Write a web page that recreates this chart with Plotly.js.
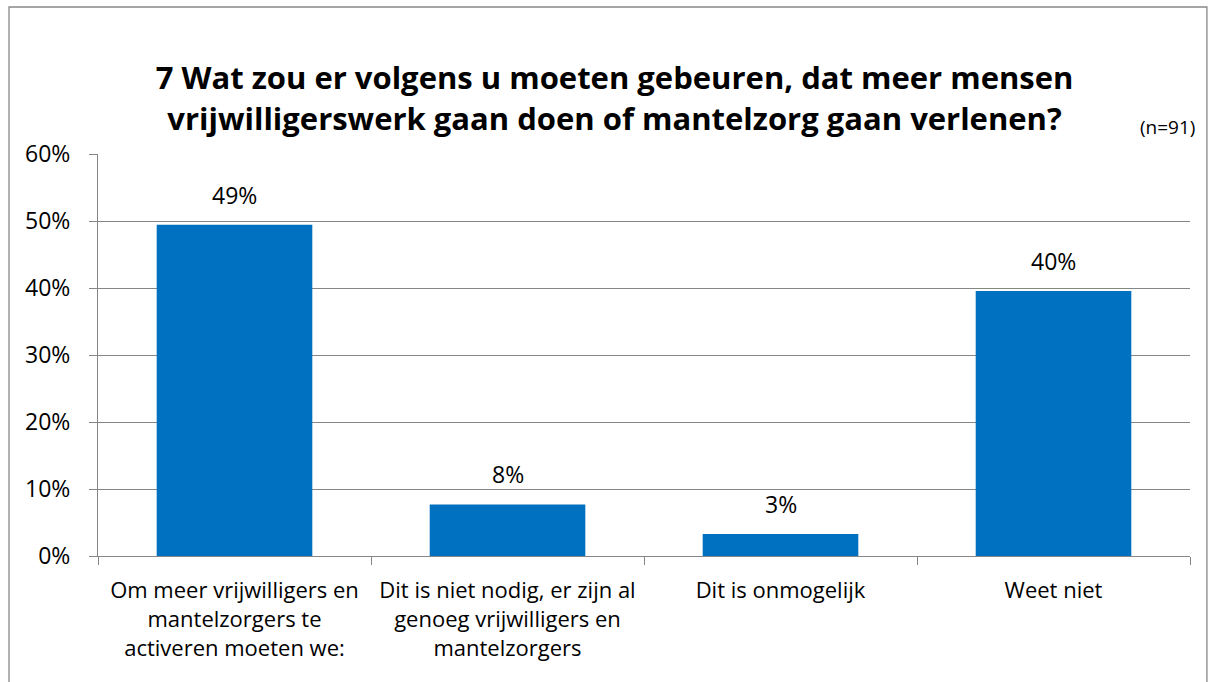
<!DOCTYPE html>
<html>
<head>
<meta charset="utf-8">
<script src="https://cdn.plot.ly/plotly-3.0.1.min.js"></script>
<style>html,body{margin:0;padding:0;background:#fff;}#chart{width:1215px;height:682px;}</style>
</head>
<body>
<div id="chart"></div>
<script>
const categories = [
  "Om meer vrijwilligers en<br>mantelzorgers te<br>activeren moeten we:",
  "Dit is niet nodig, er zijn al<br>genoeg vrijwilligers en<br>mantelzorgers",
  "Dit is onmogelijk",
  "Weet niet"
];
const values = [0.4945, 0.0769, 0.0330, 0.3956];
const valueLabels = ["49%", "8%", "3%", "40%"];
const yTickVals = [0, 0.1, 0.2, 0.3, 0.4, 0.5, 0.6];
const yTickText = ["0%", "10%", "20%", "30%", "40%", "50%", "60%"];

const FONT = "'Open Sans', 'Noto Sans', sans-serif";
const barColor = "#0070C0";
const gridColor = "#868686";

const trace = {
  type: "bar",
  x: categories,
  y: values,
  marker: {color: barColor},
  hoverinfo: "skip"
};

const annotations = categories.map((c, i) => ({
  x: c, y: values[i], xref: "x", yref: "y",
  text: valueLabels[i], showarrow: false,
  yanchor: "bottom", yshift: 12,
  font: {family: FONT, size: 23, color: "#000"}
}));
annotations.push({
  xref: "paper", yref: "paper", x: 1.006, y: 1.0, xanchor: "right", yanchor: "bottom",
  yshift: 12,
  text: "(n=91)", showarrow: false,
  font: {family: FONT, size: 19, color: "#000"}
});

const layout = {
  width: 1215, height: 682,
  paper_bgcolor: "#fff", plot_bgcolor: "#fff",
  margin: {l: 98, r: 25, t: 154, b: 126, pad: 0},
  title: {
    text: "<b>7 Wat zou er volgens u moeten gebeuren, dat meer mensen<br>vrijwilligerswerk gaan doen of mantelzorg gaan verlenen?</b>",
    font: {family: FONT, size: 31, color: "#000"},
    x: 0.5058, xref: "container", xanchor: "center",
    y: 0.869, yref: "container", yanchor: "middle"
  },
  bargap: 0.43,
  showlegend: false,
  xaxis: {
    type: "category",
    showline: true, linecolor: gridColor, linewidth: 1,
    ticks: "outside", tickson: "boundaries", ticklen: 8, tickcolor: gridColor,
    tickangle: 0, automargin: false,
    ticklabelstandoff: 15,
    tickfont: {family: FONT, size: 22, color: "#000"},
    showgrid: false, fixedrange: true
  },
  yaxis: {
    range: [0, 0.6],
    tickvals: yTickVals, ticktext: yTickText,
    ticks: "outside", ticklen: 8, tickcolor: gridColor,
    ticklabelstandoff: 14,
    showline: true, linecolor: gridColor, linewidth: 1,
    showgrid: true, gridcolor: gridColor, gridwidth: 1,
    zeroline: false, automargin: false,
    tickfont: {family: FONT, size: 23, color: "#000"},
    fixedrange: true
  },
  annotations: annotations,
  shapes: [{
    type: "rect", xref: "paper", yref: "paper",
    x0: -0.0815, x1: 1.0155, y0: -0.33, y1: 1.3657,
    line: {color: "#888", width: 1.3}, fillcolor: "rgba(0,0,0,0)", layer: "below"
  }]
};

Plotly.newPlot("chart", [trace], layout, {displayModeBar: false, staticPlot: true});
</script>
</body>
</html>
